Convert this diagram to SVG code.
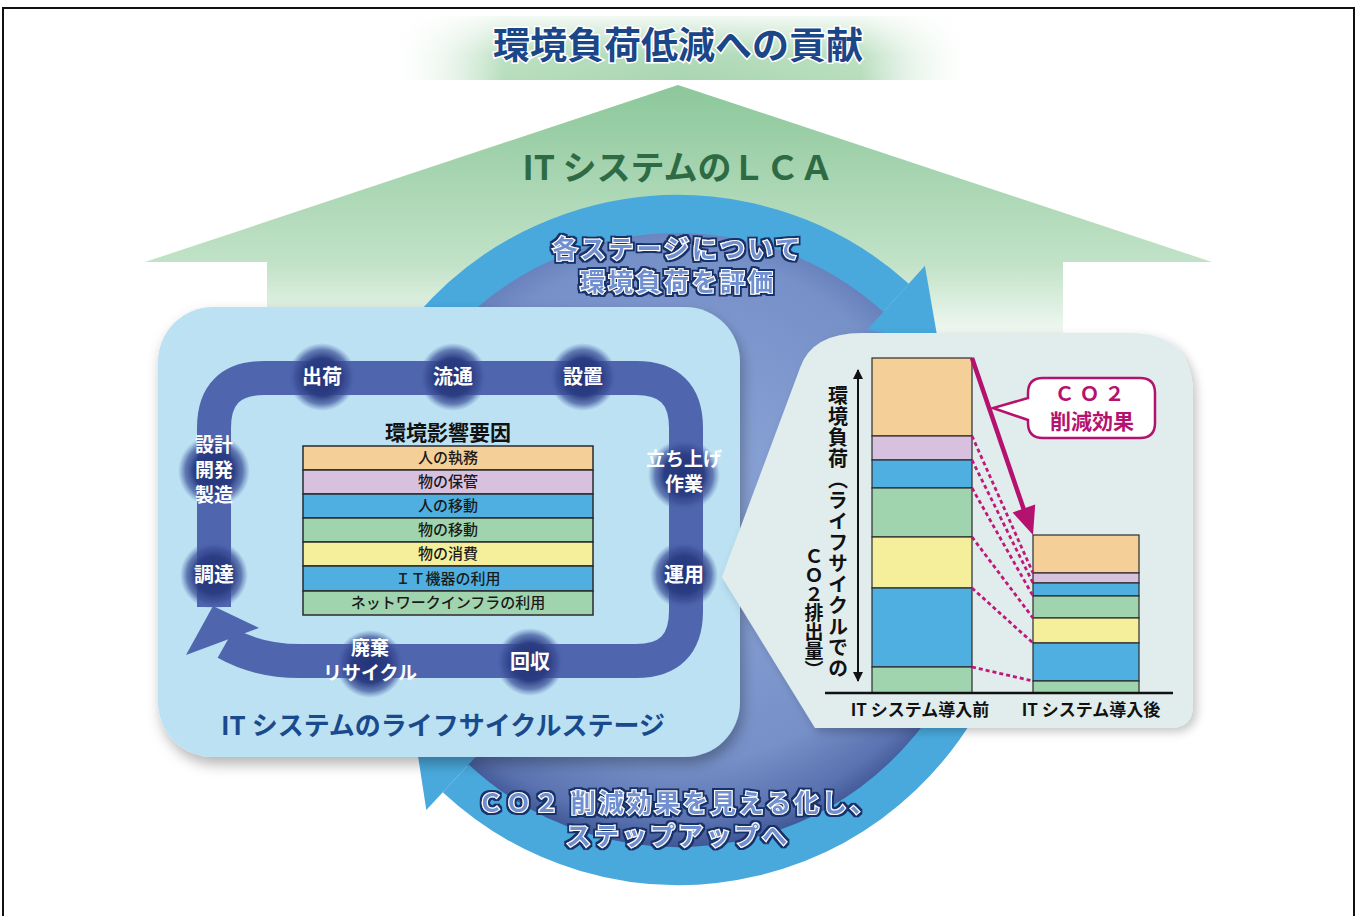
<svg xmlns="http://www.w3.org/2000/svg" width="1359" height="916" viewBox="0 0 1359 916">
<defs>
<style>
.jp{font-family:"Noto Sans CJK JP","Noto Sans",sans-serif;font-weight:700;}
.stage{fill:#ffffff;font-size:20px;text-anchor:middle;}
.stage-m{font-size:19px;}
.row{fill:#1a1a1a;font-size:15px;text-anchor:middle;font-weight:500;}
.cell{stroke:#2b2b2b;stroke-width:1.5;}
.ring-text{fill:#6f8fd0;stroke:#ffffff;stroke-width:2.2;paint-order:stroke;font-size:25px;letter-spacing:3px;text-anchor:middle;filter:url(#outline);}
.bar{stroke:#2b2b2b;stroke-width:1.2;}
.c-or{fill:#f5cf98;} .c-li{fill:#d8c0df;} .c-bl{fill:#4fafe0;} .c-gr{fill:#9fd4ae;} .c-ye{fill:#f5ef9c;}
.dash{stroke:#c0187a;stroke-width:2.8;stroke-dasharray:4 3;fill:none;}
.glow{fill:url(#glowGrad);}
</style>
<linearGradient id="houseGrad" gradientUnits="userSpaceOnUse" x1="0" y1="85" x2="0" y2="420">
<stop offset="0" stop-color="#8cc79a"/>
<stop offset="0.53" stop-color="#c1e2c7"/>
<stop offset="0.75" stop-color="#f2f9f3"/>
<stop offset="1" stop-color="#ffffff"/>
</linearGradient>
<linearGradient id="bannerGrad" x1="0" y1="0" x2="1" y2="0">
<stop offset="0" stop-color="#ffffff" stop-opacity="0"/>
<stop offset="0.2" stop-color="#b7ddbd"/>
<stop offset="0.5" stop-color="#a9d6b1"/>
<stop offset="0.8" stop-color="#b7ddbd"/>
<stop offset="1" stop-color="#ffffff" stop-opacity="0"/>
</linearGradient>
<linearGradient id="bannerFade" x1="0" y1="0" x2="0" y2="1">
<stop offset="0" stop-color="#ffffff" stop-opacity="0.85"/>
<stop offset="0.6" stop-color="#ffffff" stop-opacity="0.1"/>
<stop offset="1" stop-color="#ffffff" stop-opacity="0"/>
</linearGradient>
<radialGradient id="discGrad" cx="0.5" cy="0.45" r="0.55">
<stop offset="0" stop-color="#90a9da"/>
<stop offset="0.75" stop-color="#7690c8"/>
<stop offset="0.92" stop-color="#5a72b0"/>
<stop offset="1" stop-color="#3e5494"/>
</radialGradient>
<radialGradient id="glowGrad">
<stop offset="0" stop-color="#243478"/>
<stop offset="0.55" stop-color="#2b3d83"/>
<stop offset="0.8" stop-color="#3b4f98" stop-opacity="0.7"/>
<stop offset="1" stop-color="#4f65ad" stop-opacity="0"/>
</radialGradient>
<filter id="outline" x="-10%" y="-30%" width="120%" height="160%">
<feMorphology in="SourceAlpha" operator="dilate" radius="1.8" result="d"/>
<feFlood flood-color="#14306a"/>
<feComposite in2="d" operator="in" result="o"/>
<feMerge><feMergeNode in="o"/><feMergeNode in="SourceGraphic"/></feMerge>
</filter>
<filter id="shadow" x="-10%" y="-10%" width="125%" height="125%">
<feGaussianBlur in="SourceAlpha" stdDeviation="7"/>
<feOffset dx="3" dy="7" result="b"/>
<feFlood flood-color="#000000" flood-opacity="0.3"/>
<feComposite in2="b" operator="in" result="s"/>
<feMerge><feMergeNode in="s"/><feMergeNode in="SourceGraphic"/></feMerge>
</filter>
<filter id="soft" x="-20%" y="-20%" width="140%" height="140%">
<feGaussianBlur in="SourceAlpha" stdDeviation="5"/>
<feOffset dx="4" dy="4" result="b"/>
<feFlood flood-color="#000000" flood-opacity="0.22"/>
<feComposite in2="b" operator="in" result="s"/>
<feMerge><feMergeNode in="s"/><feMergeNode in="SourceGraphic"/></feMerge>
</filter>
<marker id="axHead" viewBox="0 0 10 10" refX="9" refY="5" markerWidth="10" markerHeight="12" markerUnits="userSpaceOnUse" orient="auto-start-reverse">
<path d="M0,0 L10,5 L0,10 Z" fill="#111111"/>
</marker>
</defs>

<rect x="0" y="0" width="1359" height="916" fill="#ffffff"/>
<rect x="3" y="8" width="1351" height="930" fill="none" stroke="#111111" stroke-width="2"/>

<g id="lca-arrow">
<polygon points="678,85 1212,262 1063,262 1063,420 267,420 267,262 145,262" fill="url(#houseGrad)"/>
<text class="jp" x="678" y="180" font-size="34" fill="#2e6b44" text-anchor="middle">IT システムのＬＣＡ</text>
</g>

<g id="title">
<rect x="385" y="16" width="595" height="64" fill="url(#bannerGrad)"/>
<rect x="385" y="16" width="595" height="64" fill="url(#bannerFade)"/>
<text class="jp" x="678" y="59" font-size="37" font-weight="900" fill="#1b4687" stroke="#ffffff" stroke-width="3" paint-order="stroke" text-anchor="middle">環境負荷低減への貢献</text>
</g>

<g id="connectors-cycle">
<circle cx="678" cy="540" r="309" fill="url(#discGrad)"/>
<path d="M357,483 A326,326 0 0 1 896.1,297.8" fill="none" stroke="#49a9dd" stroke-width="38"/>
<polygon points="867.3,329.7 924.9,265.8 938.5,343.8" fill="#49a9dd"/>
<path d="M984.4,651.5 A326,326 0 0 1 455.7,778.4" fill="none" stroke="#49a9dd" stroke-width="38"/>
<polygon points="485,746.9 426.3,809.9 414.3,731.7" fill="#49a9dd"/>
</g>

<g id="cycle-labels">
<text class="jp ring-text" x="678" y="258"><tspan x="678" y="258">各ステージについて</tspan><tspan x="678" y="291">環境負荷を評価</tspan></text>
<text class="jp ring-text" x="678" y="812"><tspan x="678" y="812">ＣＯ２ 削減効果を見える化し、</tspan><tspan x="678" y="845">ステップアップへ</tspan></text>
</g>

<g id="lifecycle-panel">
<rect x="158" y="307" width="582" height="450" rx="55" fill="#bbe1f3" filter="url(#shadow)"/>
<text class="jp" x="443" y="735" font-size="26" fill="#1a4a8c" text-anchor="middle">IT システムのライフサイクルステージ</text>
</g>

<g id="connectors-track">
<path d="M214,607 L214,428 Q214,378 264,378 L636,378 Q686,378 686,428 L686,611 Q686,661 636,661 L300,661 Q258,661 226,643" fill="none" stroke="#4f65ad" stroke-width="34"/>
<polygon points="186,655 213,606 259,628" fill="#4f65ad"/>
</g>

<g id="stage-shukka"><circle class="glow" cx="322" cy="377" r="34"/><text class="jp stage" x="322" y="384">出荷</text></g>
<g id="stage-ryutsu"><circle class="glow" cx="453" cy="377" r="34"/><text class="jp stage" x="453" y="384">流通</text></g>
<g id="stage-secchi"><circle class="glow" cx="583" cy="377" r="34"/><text class="jp stage" x="583" y="384">設置</text></g>
<g id="stage-tachiage"><circle class="glow" cx="684" cy="475" r="36"/><text class="jp stage stage-m" x="684" y="466"><tspan x="684" y="466">立ち上げ</tspan><tspan x="684" y="491">作業</tspan></text></g>
<g id="stage-unyo"><circle class="glow" cx="684" cy="575" r="34"/><text class="jp stage" x="684" y="582">運用</text></g>
<g id="stage-kaishu"><circle class="glow" cx="530" cy="662" r="34"/><text class="jp stage" x="530" y="669">回収</text></g>
<g id="stage-haiki"><circle class="glow" cx="370" cy="664" r="34"/><text class="jp stage stage-m" x="370" y="655"><tspan x="370" y="655">廃棄</tspan><tspan x="370" y="680">リサイクル</tspan></text></g>
<g id="stage-chotatsu"><circle class="glow" cx="214" cy="575" r="34"/><text class="jp stage" x="214" y="582">調達</text></g>
<g id="stage-sekkei"><circle class="glow" cx="214" cy="471" r="36"/><text class="jp stage stage-m" x="214" y="452"><tspan x="214" y="452">設計</tspan><tspan x="214" y="477">開発</tspan><tspan x="214" y="502">製造</tspan></text></g>

<g id="factor-table">
<text class="jp" x="448" y="440" font-size="21" fill="#111111" text-anchor="middle">環境影響要因</text>
<rect class="cell c-or" x="303" y="446" width="290" height="24"/>
<rect class="cell c-li" x="303" y="470" width="290" height="24"/>
<rect class="cell c-bl" x="303" y="494" width="290" height="24"/>
<rect class="cell c-gr" x="303" y="518" width="290" height="24"/>
<rect class="cell c-ye" x="303" y="542" width="290" height="24"/>
<rect class="cell c-bl" x="303" y="566" width="290" height="25"/>
<rect class="cell c-gr" x="303" y="591" width="290" height="24"/>
<text class="jp row" x="448" y="463">人の執務</text>
<text class="jp row" x="448" y="487">物の保管</text>
<text class="jp row" x="448" y="511">人の移動</text>
<text class="jp row" x="448" y="535">物の移動</text>
<text class="jp row" x="448" y="559">物の消費</text>
<text class="jp row" x="448" y="584">ＩＴ機器の利用</text>
<text class="jp row" x="448" y="608">ネットワークインフラの利用</text>
</g>

<g id="chart-panel">
<path d="M800,368 Q812,333 862,333 L1130,333 Q1193,333 1193,396 L1193,705 Q1193,728 1170,728 L815,728 L722,577 Z" fill="#e1edec" filter="url(#soft)"/>
</g>

<g id="chart">
<rect class="bar c-or" x="872" y="358" width="100" height="78"/>
<rect class="bar c-li" x="872" y="436" width="100" height="24"/>
<rect class="bar c-bl" x="872" y="460" width="100" height="28"/>
<rect class="bar c-gr" x="872" y="488" width="100" height="49"/>
<rect class="bar c-ye" x="872" y="537" width="100" height="51"/>
<rect class="bar c-bl" x="872" y="588" width="100" height="79"/>
<rect class="bar c-gr" x="872" y="667" width="100" height="26"/>
<rect class="bar c-or" x="1033" y="535" width="106" height="38"/>
<rect class="bar c-li" x="1033" y="573" width="106" height="10"/>
<rect class="bar c-bl" x="1033" y="583" width="106" height="13"/>
<rect class="bar c-gr" x="1033" y="596" width="106" height="22"/>
<rect class="bar c-ye" x="1033" y="618" width="106" height="25"/>
<rect class="bar c-bl" x="1033" y="643" width="106" height="38"/>
<rect class="bar c-gr" x="1033" y="681" width="106" height="12"/>
<line x1="825" y1="693" x2="1173" y2="693" stroke="#111111" stroke-width="2.5"/>
<line x1="858" y1="370" x2="858" y2="681" stroke="#111111" stroke-width="2" marker-start="url(#axHead)" marker-end="url(#axHead)"/>
<text class="jp" x="838" y="385" font-size="20" fill="#111111" letter-spacing="1" style="writing-mode:vertical-rl">環境負荷（ライフサイクルでの</text>
<text class="jp" x="814" y="546" font-size="19" fill="#111111" style="writing-mode:vertical-rl">ＣＯ２排出量）</text>
<text class="jp" x="920" y="716" font-size="17" fill="#111111" text-anchor="middle">IT システム導入前</text>
<text class="jp" x="1091" y="716" font-size="17" fill="#111111" text-anchor="middle">IT システム導入後</text>
</g>

<g id="connectors-chart">
<line class="dash" x1="972" y1="436" x2="1033" y2="573"/>
<line class="dash" x1="972" y1="460" x2="1033" y2="583"/>
<line class="dash" x1="972" y1="488" x2="1033" y2="596"/>
<line class="dash" x1="972" y1="537" x2="1033" y2="618"/>
<line class="dash" x1="972" y1="588" x2="1033" y2="643"/>
<line class="dash" x1="972" y1="667" x2="1033" y2="681"/>
<line x1="972" y1="358" x2="1024" y2="510" stroke="#b5126f" stroke-width="4.5"/>
<polygon points="1033,535 1035.2,504.6 1012.6,512.4" fill="#b5126f"/>
</g>

<g id="callout">
<path d="M1043,378 L1140,378 Q1155,378 1155,393 L1155,423 Q1155,438 1140,438 L1043,438 Q1028,438 1028,423 L1028,420 L993,408 L1028,398 L1028,393 Q1028,378 1043,378 Z" fill="#ffffff" stroke="#b5126f" stroke-width="2.5"/>
<text class="jp" x="1092" y="401" fill="#b5126f" text-anchor="middle"><tspan x="1092" y="401" font-size="20" letter-spacing="5">ＣＯ２</tspan><tspan x="1092" y="429" font-size="21">削減効果</tspan></text>
</g>
</svg>
